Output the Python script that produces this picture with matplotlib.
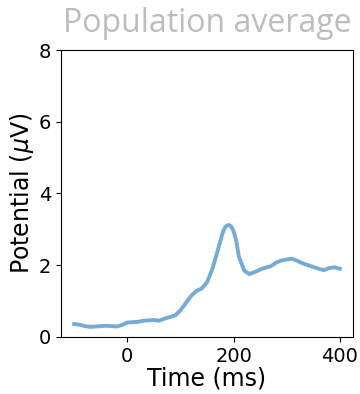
import matplotlib
matplotlib.use("Agg")
import matplotlib.pyplot as plt

# population-average trace (ms, uV)
times = [-100, -90, -80, -70, -60, -50, -40, -30, -20, -10,
         0, 10, 20, 30, 40, 50, 60, 70, 80, 90,
         100, 110, 120, 130, 140, 150, 160, 170, 180, 185, 190, 195,
         200, 205, 210, 220, 230, 240, 250, 260, 270, 280, 290,
         300, 310, 320, 330, 340, 350, 360, 370, 380, 390, 400]
potential = [0.36, 0.34, 0.30, 0.28, 0.29, 0.30, 0.31, 0.30, 0.29, 0.33,
             0.40, 0.41, 0.42, 0.45, 0.46, 0.47, 0.45, 0.51, 0.55, 0.60,
             0.74, 0.94, 1.14, 1.28, 1.35, 1.52, 1.89, 2.40, 2.93, 3.08, 3.12, 3.09,
             2.95, 2.68, 2.24, 1.85, 1.75, 1.81, 1.88, 1.93, 1.97, 2.07, 2.13,
             2.16, 2.18, 2.12, 2.05, 2.00, 1.95, 1.90, 1.86, 1.92, 1.94, 1.90]

fig = plt.figure(figsize=(3.6, 3.94), dpi=100)
ax = fig.add_axes([0.169, 0.145, 0.812, 0.728])
ax.plot(times, potential, color="#74acd6", lw=2.8)
ax.set_ylim(0, 8)
ax.set_xticks([0, 200, 400])
ax.set_yticks([0, 2, 4, 6, 8])
ax.tick_params(labelsize=14)
ax.set_xlabel("Time (ms)", fontsize=17, labelpad=1)
ax.set_ylabel(r"Potential ($\mu$V)", fontsize=17, labelpad=2)
ax.set_title("Population average", fontsize=23, color="#bdbdbd",
             family="Open Sans", pad=13)
fig.savefig("out.png", dpi=100)
